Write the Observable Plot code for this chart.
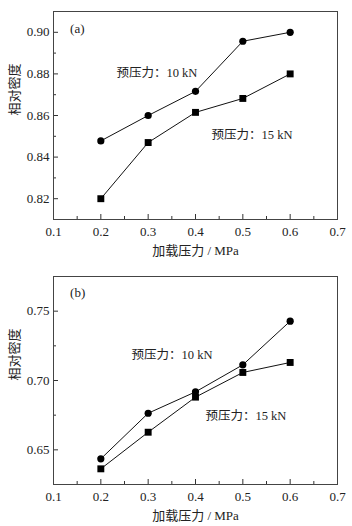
<!DOCTYPE html>
<html><head><meta charset="utf-8">
<script src="https://cdn.jsdelivr.net/npm/d3@7"></script>
<script src="https://cdn.jsdelivr.net/npm/@observablehq/plot@0.6"></script>
<style>
body{margin:0;background:#fff;}
#chart svg{display:block;}
</style>
</head><body><div id="chart"></div>
<script>
const pressure = [0.2, 0.3, 0.4, 0.5, 0.6];
const xTicks = [0.1, 0.2, 0.3, 0.4, 0.5, 0.6, 0.7];
const xMinor = [0.15, 0.25, 0.35, 0.45, 0.55, 0.65];
const seriesNames = ["预压力：10 kN", "预压力：15 kN"];
// panel (a)
const a10 = [0.8478, 0.8600, 0.8716, 0.8957, 0.9000];
const a15 = [0.8200, 0.8470, 0.8615, 0.8682, 0.8800];
const aYTicks = [0.82, 0.84, 0.86, 0.88, 0.90];
const aYMinor = [0.81, 0.83, 0.85, 0.87, 0.89, 0.91];
// panel (b)
const b10 = [0.6435, 0.6764, 0.6918, 0.7113, 0.7428];
const b15 = [0.6363, 0.6627, 0.6880, 0.7058, 0.7130];
const bYTicks = [0.65, 0.70, 0.75];
const bYMinor = [0.625, 0.675, 0.725, 0.775];

const font = "'Liberation Serif', 'Times New Roman', 'Noto Sans CJK SC', serif";
const ink = "#222";

function panel({s10, s15, yDomain, yTicks, yMinor, yFormat, tag, tagPos, l10, l15, height, marginTop, marginBottom}) {
  const d10 = pressure.map((x, i) => ({x, y: s10[i]}));
  const d15 = pressure.map((x, i) => ({x, y: s15[i]}));
  return Plot.plot({
    width: 352, height,
    marginLeft: 53, marginRight: 15, marginTop, marginBottom,
    style: {fontFamily: font, fontSize: "13px", color: ink, background: "#fff"},
    x: {domain: [0.1, 0.7]},
    y: {domain: yDomain},
    marks: [
      Plot.axisX(xTicks, {tickSize: -5, tickPadding: 12, tickFormat: d => d.toFixed(1), label: null, stroke: "#333"}),
      Plot.axisX(xMinor, {tickSize: -3, tickFormat: () => "", label: null, stroke: "#333"}),
      Plot.axisY(yTicks, {tickSize: -5, tickPadding: 9, tickFormat: yFormat, label: null, stroke: "#333"}),
      Plot.axisY(yMinor, {tickSize: -3, tickFormat: () => "", label: null, stroke: "#333"}),
      Plot.frame({stroke: "#444", strokeWidth: 1}),
      Plot.text(["加载压力 / MPa"], {frameAnchor: "bottom", dy: 35, fontSize: 13, fill: ink}),
      Plot.text(["相对密度"], {frameAnchor: "left", rotate: -90, dx: -39, fontSize: 13, fill: ink}),
      Plot.line(d10, {x: "x", y: "y", stroke: "#111", strokeWidth: 1}),
      Plot.line(d15, {x: "x", y: "y", stroke: "#111", strokeWidth: 1}),
      Plot.dot(d10, {x: "x", y: "y", r: 3.6, fill: "#000", symbol: "circle"}),
      Plot.dot(d15, {x: "x", y: "y", r: 3.9, fill: "#000", symbol: "square"}),
      Plot.text([tag], {x: tagPos[0], y: tagPos[1], textAnchor: "start", fontSize: 13, fill: ink}),
      Plot.text([seriesNames[0]], {x: l10[0], y: l10[1], textAnchor: "start", fontSize: 12.5, fill: ink}),
      Plot.text([seriesNames[1]], {x: l15[0], y: l15[1], textAnchor: "start", fontSize: 12.5, fill: ink})
    ]
  });
}

const chart = document.getElementById("chart");
chart.append(panel({
  s10: a10, s15: a15, yDomain: [0.81, 0.91], yTicks: aYTicks, yMinor: aYMinor,
  yFormat: d => d.toFixed(2), tag: "(a)", tagPos: [0.135, 0.9015],
  l10: [0.233, 0.8804], l15: [0.434, 0.8507],
  height: 262, marginTop: 11, marginBottom: 43
}));
chart.append(panel({
  s10: b10, s15: b15, yDomain: [0.625, 0.775], yTicks: bYTicks, yMinor: bYMinor,
  yFormat: d => d.toFixed(2), tag: "(b)", tagPos: [0.135, 0.763],
  l10: [0.265, 0.7183], l15: [0.421, 0.6742],
  height: 264, marginTop: 14, marginBottom: 42
}));
</script>
</body></html>
